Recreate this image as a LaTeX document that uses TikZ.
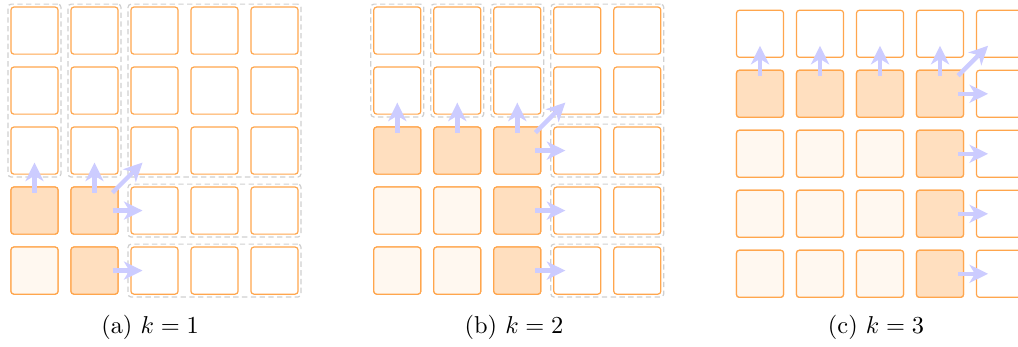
\documentclass[tikz,border=0pt]{standalone}
\usetikzlibrary{arrows.meta,calc,fit}
\definecolor{cellorange}{RGB}{255,166,77}
\definecolor{curfill}{RGB}{255,223,191}
\definecolor{donefill}{RGB}{255,248,240}
\definecolor{arrowc}{RGB}{204,204,255}
\definecolor{grpgray}{RGB}{208,208,208}
\tikzset{
  cell/.style={draw=cellorange, line width=0.5pt, rounded corners=1.2pt,
    minimum size=19.3pt, inner sep=0pt, outer sep=0pt, fill=white},
  curcell/.style={cell, fill=curfill},
  donecell/.style={cell, fill=donefill},
  flow/.style={draw=arrowc, line width=1.8pt,
    -{Stealth[length=7.6pt 0 0,width=7.4pt 0 0,inset=2.2pt 0]}},
  grp/.style={draw=grpgray, line width=0.5pt, dash pattern=on 2.2pt off 1.4pt,
    rounded corners=1.3pt, inner sep=1.2pt},
  captext/.style={anchor=base, inner sep=0pt}
}
\begin{document}
\begin{tikzpicture}[x=0.41pt,y=-0.41pt]
\useasboundingbox (0,0) rectangle (1018,346);
\clip (0,0) rectangle (1018,346);
% ---------- panel (a) ----------
\foreach \r in {0,...,4}{\foreach \c in {0,...,4}{
  \node[cell] (a-\r-\c) at ({10.5+60*\c+24},{6.6+60*\r+24}) {};}}
\node[curcell] (a-3-0) at ({10.5+24},{6.6+180+24}) {};
\node[curcell] (a-3-1) at ({10.5+60+24},{6.6+180+24}) {};
\node[donecell] (a-4-0) at ({10.5+24},{6.6+240+24}) {};
\node[curcell] (a-4-1) at ({10.5+60+24},{6.6+240+24}) {};
\node[grp, fit=(a-0-0)(a-2-0)] (ga1) {};
\node[grp, fit=(a-0-1)(a-2-1)] (ga2) {};
\node[grp, fit=(a-0-2)(a-2-4)] (ga3) {};
\node[grp, fit=(a-3-2)(a-3-4)] (ga4) {};
\node[grp, fit=(a-4-2)(a-4-4)] (ga5) {};
\foreach \c in {0,1}{
  \draw[flow] ($(a-3-\c.north)+(0,5.5)$) -- ($(a-3-\c.north)+(0,-24.5)$);}
\draw[flow] ($(a-3-1.north east)+(-5.5,5.5)$) -- ($(a-3-1.north east)+(24.5,-24.5)$);
\foreach \r in {3,4}{
  \draw[flow] ($(a-\r-1.east)+(-5.5,0)$) -- ($(a-\r-1.east)+(24.5,0)$);}
\node[captext] (capa) at (150,333.5) {(a) $k=1$};
% ---------- panel (b) ----------
\foreach \r in {0,...,4}{\foreach \c in {0,...,4}{
  \node[cell] (b-\r-\c) at ({373.3+60*\c+24},{6.6+60*\r+24}) {};}}
\foreach \c in {0,1,2}{
  \node[curcell] (b-2-\c) at ({373.3+60*\c+24},{6.6+120+24}) {};}
\foreach \r in {3,4}{
  \foreach \c in {0,1}{
    \node[donecell] (b-\r-\c) at ({373.3+60*\c+24},{6.6+60*\r+24}) {};}
  \node[curcell] (b-\r-2) at ({373.3+120+24},{6.6+60*\r+24}) {};}
\node[grp, fit=(b-0-0)(b-1-0)] (gb1) {};
\node[grp, fit=(b-0-1)(b-1-1)] (gb2) {};
\node[grp, fit=(b-0-2)(b-1-2)] (gb3) {};
\node[grp, fit=(b-0-3)(b-1-4)] (gb4) {};
\node[grp, fit=(b-2-3)(b-2-4)] (gb5) {};
\node[grp, fit=(b-3-3)(b-3-4)] (gb6) {};
\node[grp, fit=(b-4-3)(b-4-4)] (gb7) {};
\foreach \c in {0,1,2}{
  \draw[flow] ($(b-2-\c.north)+(0,5.5)$) -- ($(b-2-\c.north)+(0,-24.5)$);}
\draw[flow] ($(b-2-2.north east)+(-5.5,5.5)$) -- ($(b-2-2.north east)+(24.5,-24.5)$);
\foreach \r in {2,3,4}{
  \draw[flow] ($(b-\r-2.east)+(-5.5,0)$) -- ($(b-\r-2.east)+(24.5,0)$);}
\node[captext] (capb) at (514,333.5) {(b) $k=2$};
% ---------- panel (c) ----------
\foreach \r in {0,...,4}{\foreach \c in {0,...,4}{
  \node[cell] (c-\r-\c) at ({736+60*\c+24},{9.8+60*\r+24}) {};}}
\foreach \c in {0,...,3}{
  \node[curcell] (c-1-\c) at ({736+60*\c+24},{9.8+60+24}) {};}
\foreach \r in {2,3,4}{
  \foreach \c in {0,1,2}{
    \node[donecell] (c-\r-\c) at ({736+60*\c+24},{9.8+60*\r+24}) {};}
  \node[curcell] (c-\r-3) at ({736+180+24},{9.8+60*\r+24}) {};}
\foreach \c in {0,...,3}{
  \draw[flow] ($(c-1-\c.north)+(0,5.5)$) -- ($(c-1-\c.north)+(0,-24.5)$);}
\draw[flow] ($(c-1-3.north east)+(-5.5,5.5)$) -- ($(c-1-3.north east)+(24.5,-24.5)$);
\foreach \r in {1,...,4}{
  \draw[flow] ($(c-\r-3.east)+(-5.5,0)$) -- ($(c-\r-3.east)+(24.5,0)$);}
\node[captext] (capc) at (876,333.5) {(c) $k=3$};
\end{tikzpicture}
\end{document}
